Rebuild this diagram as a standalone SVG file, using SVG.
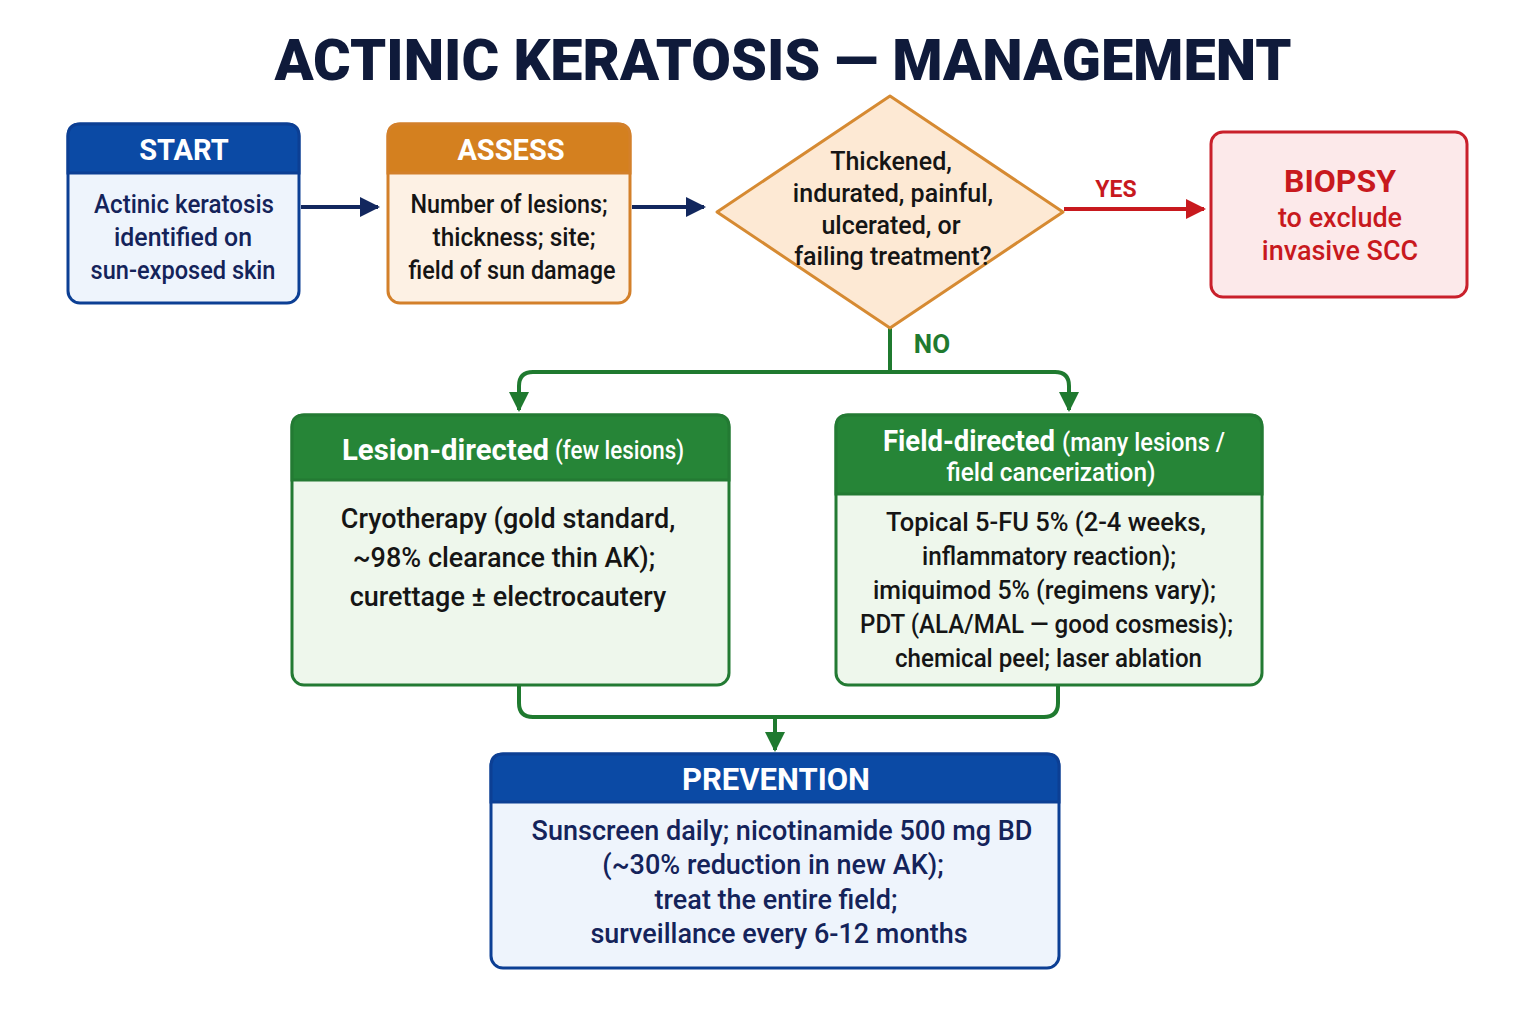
<svg xmlns="http://www.w3.org/2000/svg" width="1536" height="1024" viewBox="0 0 1536 1024">
<defs>
<style>
text{font-family:Roboto,"Liberation Sans",sans-serif;text-anchor:middle;dominant-baseline:central}
.title{font-size:58px;font-weight:900;fill:#0f1a3a}
.hw{fill:#fff;font-weight:700}
.nav{fill:#14235a;font-size:26px;font-weight:500}
.blk{fill:#151515;font-size:26px;font-weight:500}
.conn{fill:none;stroke-width:4}
</style>
<marker id="aN" viewBox="0 0 10 10" refX="9" refY="5" markerWidth="5" markerHeight="5" orient="auto" markerUnits="strokeWidth"><path d="M0,0L10,5L0,10z" fill="#12275e"/></marker>
<marker id="aR" viewBox="0 0 10 10" refX="9" refY="5" markerWidth="5" markerHeight="5" orient="auto" markerUnits="strokeWidth"><path d="M0,0L10,5L0,10z" fill="#c8191e"/></marker>
<marker id="aG" viewBox="0 0 10 10" refX="9" refY="5" markerWidth="5" markerHeight="5" orient="auto" markerUnits="strokeWidth"><path d="M0,0L10,5L0,10z" fill="#1f7a2f"/></marker>
</defs>
<rect width="1536" height="1024" fill="#ffffff"/>
<text class="title" x="783" y="60" textLength="1017" lengthAdjust="spacingAndGlyphs">ACTINIC KERATOSIS — MANAGEMENT</text>

<g id="connectors">
<path class="conn" d="M301,207H378" stroke="#12275e" marker-end="url(#aN)"/>
<path class="conn" d="M632,207H704" stroke="#12275e" marker-end="url(#aN)"/>
<path class="conn" d="M1064,209H1204" stroke="#c8191e" marker-end="url(#aR)"/>
<path class="conn" d="M890,328V372" stroke="#1f7a2f"/>
<path class="conn" d="M890,372H533Q519,372 519,386V410" stroke="#1f7a2f" marker-end="url(#aG)"/>
<path class="conn" d="M890,372H1055Q1069,372 1069,386V410" stroke="#1f7a2f" marker-end="url(#aG)"/>
<path class="conn" d="M519,686V703Q519,717 533,717H1044Q1058,717 1058,703V686" stroke="#1f7a2f"/>
<path class="conn" d="M775,717V750" stroke="#1f7a2f" marker-end="url(#aG)"/>
<text x="1116" y="189" style="font-size:23px;font-weight:700;fill:#c8191e">YES</text>
<text x="932" y="344" style="font-size:26px;font-weight:700;fill:#1f7a2f">NO</text>
</g>

<g id="start">
<rect x="68" y="124" width="231" height="179" rx="12" fill="#eef4fc" stroke="#0c3f94" stroke-width="3"/>
<path d="M68,173V136Q68,124 80,124H287Q299,124 299,136V173Z" fill="#0b4aa5" stroke="#0c3f94" stroke-width="3"/>
<text class="hw" x="184" y="150" style="font-size:29px">START</text>
<text class="nav" x="184" y="204" textLength="180" lengthAdjust="spacingAndGlyphs">Actinic keratosis</text>
<text class="nav" x="183" y="237" textLength="138" lengthAdjust="spacingAndGlyphs">identified on</text>
<text class="nav" x="183" y="270" textLength="185" lengthAdjust="spacingAndGlyphs">sun-exposed skin</text>
</g>

<g id="assess">
<rect x="388" y="124" width="242" height="179" rx="12" fill="#fdf1e4" stroke="#d3802a" stroke-width="3"/>
<path d="M388,173V136Q388,124 400,124H618Q630,124 630,136V173Z" fill="#d4801f" stroke="#d3802a" stroke-width="3"/>
<text class="hw" x="511" y="150" style="font-size:29px">ASSESS</text>
<text class="blk" x="509" y="204" textLength="197" lengthAdjust="spacingAndGlyphs">Number of lesions;</text>
<text class="blk" x="514" y="237" textLength="163" lengthAdjust="spacingAndGlyphs">thickness; site;</text>
<text class="blk" x="512" y="270" textLength="207" lengthAdjust="spacingAndGlyphs">field of sun damage</text>
</g>

<g id="decision">
<path d="M890,96L1063,212L890,328L717,212Z" fill="#fde9d4" stroke="#d68a32" stroke-width="3" stroke-linejoin="round"/>
<text class="blk" x="891" y="161" style="font-size:25px">Thickened,</text>
<text class="blk" x="893" y="193" style="font-size:25px">indurated, painful,</text>
<text class="blk" x="891" y="225" style="font-size:25px">ulcerated, or</text>
<text class="blk" x="893" y="256" style="font-size:25px">failing treatment?</text>
</g>

<g id="biopsy">
<rect x="1211" y="132" width="256" height="165" rx="12" fill="#fce9ea" stroke="#c9202b" stroke-width="3"/>
<text x="1340" y="181" style="font-size:32px;font-weight:700;fill:#c8191e">BIOPSY</text>
<text x="1340" y="218" style="font-size:27px;font-weight:500;fill:#c8191e">to exclude</text>
<text x="1340" y="251" style="font-size:27px;font-weight:500;fill:#c8191e">invasive SCC</text>
</g>

<g id="lesion">
<rect x="292" y="415" width="437" height="270" rx="12" fill="#eef7ec" stroke="#237a33" stroke-width="3"/>
<path d="M292,480V427Q292,415 304,415H717Q729,415 729,427V480Z" fill="#268537" stroke="#237a33" stroke-width="3"/>
<text x="445.5" y="449" style="fill:#fff;font-size:30px;font-weight:700" textLength="207" lengthAdjust="spacingAndGlyphs">Lesion-directed</text>
<text x="619.5" y="450" style="fill:#fff;font-size:26px;font-weight:500" textLength="129" lengthAdjust="spacingAndGlyphs">(few lesions)</text>
<text class="blk" x="508" y="519" style="font-size:27px">Cryotherapy (gold standard,</text>
<text class="blk" x="504" y="558" style="font-size:27px">~98% clearance thin AK);</text>
<text class="blk" x="508" y="597" style="font-size:27px">curettage ± electrocautery</text>
</g>

<g id="field">
<rect x="836" y="415" width="426" height="270" rx="12" fill="#eef7ec" stroke="#237a33" stroke-width="3"/>
<path d="M836,494V427Q836,415 848,415H1250Q1262,415 1262,427V494Z" fill="#268537" stroke="#237a33" stroke-width="3"/>
<text x="969" y="441" style="fill:#fff;font-size:29px;font-weight:700" textLength="172" lengthAdjust="spacingAndGlyphs">Field-directed</text>
<text x="1143.5" y="442" style="fill:#fff;font-size:26px;font-weight:500" textLength="163" lengthAdjust="spacingAndGlyphs">(many lesions /</text>
<text x="1051" y="472" style="fill:#fff;font-size:26px;font-weight:500" textLength="209" lengthAdjust="spacingAndGlyphs">field cancerization)</text>
<text class="blk" x="1046" y="522" textLength="320" lengthAdjust="spacingAndGlyphs">Topical 5-FU 5% (2-4 weeks,</text>
<text class="blk" x="1049" y="556" textLength="254" lengthAdjust="spacingAndGlyphs">inflammatory reaction);</text>
<text class="blk" x="1044.5" y="590" textLength="343" lengthAdjust="spacingAndGlyphs">imiquimod 5% (regimens vary);</text>
<text class="blk" x="1046.5" y="624" textLength="373" lengthAdjust="spacingAndGlyphs">PDT (ALA/MAL — good cosmesis);</text>
<text class="blk" x="1048.5" y="658" textLength="307" lengthAdjust="spacingAndGlyphs">chemical peel; laser ablation</text>
</g>

<g id="prevention">
<rect x="491" y="754" width="568" height="214" rx="12" fill="#eef4fc" stroke="#0c3f94" stroke-width="3"/>
<path d="M491,802V766Q491,754 503,754H1047Q1059,754 1059,766V802Z" fill="#0b4aa5" stroke="#0c3f94" stroke-width="3"/>
<text class="hw" x="776" y="779" style="font-size:31px">PREVENTION</text>
<text class="nav" x="782" y="831" style="font-size:27px">Sunscreen daily; nicotinamide 500 mg BD</text>
<text class="nav" x="773" y="865" style="font-size:27px">(~30% reduction in new AK);</text>
<text class="nav" x="776" y="900" style="font-size:27px">treat the entire field;</text>
<text class="nav" x="779" y="934" style="font-size:27px">surveillance every 6-12 months</text>
</g>
</svg>
